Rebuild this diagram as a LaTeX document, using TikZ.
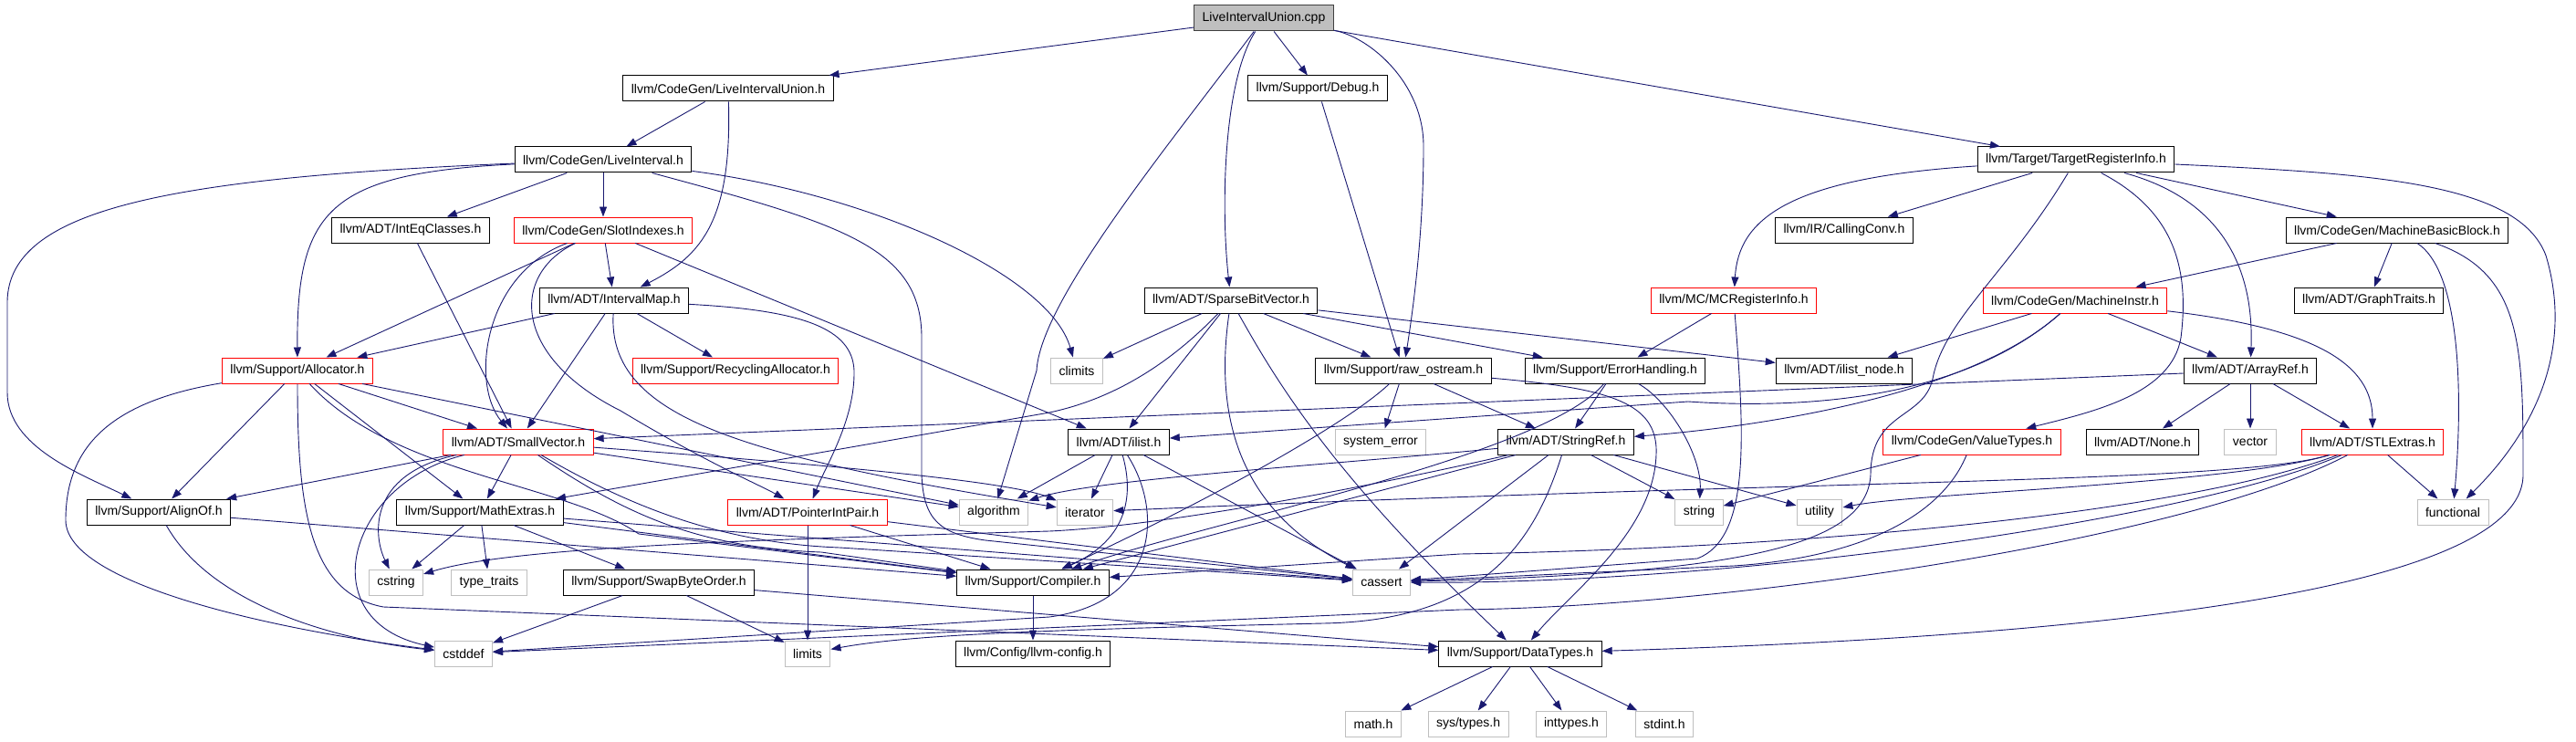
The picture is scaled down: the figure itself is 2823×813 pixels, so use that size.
\documentclass[tikz,border=0pt]{standalone}
\usepackage{fontspec}
\setmainfont{Liberation Sans}
\usetikzlibrary{arrows.meta}
\definecolor{edgeblue}{HTML}{191970}
\definecolor{sysgray}{HTML}{BFBFBF}
\definecolor{rootgray}{HTML}{BFBFBF}
\definecolor{rootline}{HTML}{404040}
\tikzset{
  hdr/.style={draw=black, fill=white, line width=1pt, minimum height=28pt,
    inner xsep=9pt, inner ysep=0pt, font=\fontsize{14}{16}\selectfont},
  trunc/.style={hdr, draw=red},
  sys/.style={hdr, draw=sysgray},
  rootbox/.style={hdr, fill=rootgray, draw=rootline},
  dep/.style={-{Triangle[length=11pt,width=8pt]}, draw=edgeblue, line width=0.9pt},
}

\begin{document}
\begin{tikzpicture}[x=1pt,y=-1pt]
  \fill[white] (0,0) rectangle (2823,813);
  \useasboundingbox (0,0) rectangle (2823,813);

  % Headers, row by row
  \node[rootbox] (root) at (1385,20) {LiveIntervalUnion.cpp};
  \node[hdr] (liuh) at (798,97) {llvm/CodeGen/LiveIntervalUnion.h};
  \node[hdr] (debug) at (1444,97) {llvm/Support/Debug.h};
  \node[hdr] (li) at (661,175) {llvm/CodeGen/LiveInterval.h};
  \node[hdr] (tri) at (2275,175) {llvm/Target/TargetRegisterInfo.h};
  \node[hdr] (ieq) at (450,252) {llvm/ADT/IntEqClasses.h};
  \node[trunc] (slot) at (661,252) {llvm/CodeGen/SlotIndexes.h};
  \node[hdr] (cconv) at (2021,252) {llvm/IR/CallingConv.h};
  \node[hdr] (mbb) at (2627,252) {llvm/CodeGen/MachineBasicBlock.h};
  \node[hdr] (imap) at (673,329) {llvm/ADT/IntervalMap.h};
  \node[hdr] (sbv) at (1349,329) {llvm/ADT/SparseBitVector.h};
  \node[trunc] (mcri) at (1900,329) {llvm/MC/MCRegisterInfo.h};
  \node[trunc] (minstr) at (2274,329) {llvm/CodeGen/MachineInstr.h};
  \node[hdr] (gtraits) at (2596,329) {llvm/ADT/GraphTraits.h};
  \node[trunc] (alloc) at (326,406) {llvm/Support/Allocator.h};
  \node[trunc] (recyc) at (806,406) {llvm/Support/RecyclingAllocator.h};
  \node[sys] (climits) at (1180,406) {climits};
  \node[hdr] (rawos) at (1538,406) {llvm/Support/raw\_ostream.h};
  \node[hdr] (errh) at (1770,406) {llvm/Support/ErrorHandling.h};
  \node[hdr] (ilnode) at (2021,406) {llvm/ADT/ilist\_node.h};
  \node[hdr] (aref) at (2466,406) {llvm/ADT/ArrayRef.h};
  \node[trunc] (svec) at (568,484) {llvm/ADT/SmallVector.h};
  \node[hdr] (ilist) at (1226,484) {llvm/ADT/ilist.h};
  \node[sys] (syserr) at (1513,484) {system\_error};
  \node[hdr] (sref) at (1716,484) {llvm/ADT/StringRef.h};
  \node[trunc] (vtypes) at (2161,484) {llvm/CodeGen/ValueTypes.h};
  \node[hdr] (none) at (2348,484) {llvm/ADT/None.h};
  \node[sys] (vector) at (2466,484) {vector};
  \node[trunc] (stlx) at (2600,484) {llvm/ADT/STLExtras.h};
  \node[hdr] (alignof) at (174,561) {llvm/Support/AlignOf.h};
  \node[hdr] (mathx) at (526,561) {llvm/Support/MathExtras.h};
  \node[trunc] (pip) at (885,561) {llvm/ADT/PointerIntPair.h};
  \node[sys] (algorithm) at (1089,561) {algorithm};
  \node[sys] (iterator) at (1189,561) {iterator};
  \node[sys] (string) at (1862,561) {string};
  \node[sys] (utility) at (1994,561) {utility};
  \node[sys] (functional) at (2688,561) {functional};
  \node[sys] (cstring) at (434,638) {cstring};
  \node[sys] (typetraits) at (536,638) {type\_traits};
  \node[hdr] (swapbo) at (722,638) {llvm/Support/SwapByteOrder.h};
  \node[hdr] (compiler) at (1132,638) {llvm/Support/Compiler.h};
  \node[sys] (cassert) at (1514,638) {cassert};
  \node[sys] (cstddef) at (508,716) {cstddef};
  \node[sys] (limits) at (885,716) {limits};
  \node[hdr] (config) at (1132,716) {llvm/Config/llvm-config.h};
  \node[hdr] (dtypes) at (1666,716) {llvm/Support/DataTypes.h};
  \node[sys] (mathh) at (1505,793) {math.h};
  \node[sys] (systypes) at (1609,793) {sys/types.h};
  \node[sys] (inttypes) at (1722,793) {inttypes.h};
  \node[sys] (stdint) at (1824,793) {stdint.h};

  % LiveIntervalUnion.cpp
  \draw[dep] (root) -- (liuh);
  \draw[dep] (root) -- (debug);
  \draw[dep] (root) -- (tri);
  \draw[dep] (root) .. controls (1340,90) and (1338,230) .. (sbv);
  \draw[dep] (root) .. controls (1500,40) and (1560,90) .. (1560,160)
    .. controls (1560,250) and (1550,330) .. (rawos);
  \draw[dep] (root) .. controls (1280,160) and (1140,330) .. (1136,406) -- (algorithm);
  \draw[dep] (debug) -- (rawos);

  % LiveIntervalUnion.h, LiveInterval.h
  \draw[dep] (liuh) -- (li);
  \draw[dep] (liuh) .. controls (802,240) and (770,280) .. (imap);
  \draw[dep] (li) -- (ieq);
  \draw[dep] (li) -- (slot);
  \draw[dep] (li) .. controls (360,190) and (325,230) .. (alloc);
  \draw[dep] (li) .. controls (180,195) and (10,230) .. (8,330) -- (8,430)
    .. controls (8,490) and (90,520) .. (alignof);
  \draw[dep] (li) .. controls (950,212) and (1150,300) .. (climits);
  \draw[dep] (li) .. controls (920,245) and (1010,270) .. (1010,370) -- (1010,520)
    .. controls (1012,570) and (1030,585) .. (1080,592) -- (cassert);

  % SlotIndexes.h, IntEqClasses.h, IntervalMap.h
  \draw[dep] (ieq) -- (svec);
  \draw[dep] (slot) -- (imap);
  \draw[dep] (slot) -- (alloc);
  \draw[dep] (slot) -- (ilist);
  \draw[dep] (slot) .. controls (530,300) and (515,420) .. (svec);
  \draw[dep] (slot) .. controls (560,300) and (560,390) .. (680,450)
    .. controls (780,510) and (830,530) .. (pip);
  \draw[dep] (imap) -- (alloc);
  \draw[dep] (imap) -- (svec);
  \draw[dep] (imap) -- (recyc);
  \draw[dep] (imap) .. controls (880,340) and (934,360) .. (936,406)
    .. controls (937,460) and (905,510) .. (pip);
  \draw[dep] (imap) .. controls (665,460) and (820,500) .. (iterator);

  % Allocator.h
  \draw[dep] (alloc) -- (svec);
  \draw[dep] (alloc) -- (alignof);
  \draw[dep] (alloc) -- (mathx);
  \draw[dep] (alloc) -- (algorithm);
  \draw[dep] (alloc) .. controls (120,440) and (72,490) .. (72,570)
    .. controls (72,640) and (300,690) .. (cstddef);
  \draw[dep] (alloc) .. controls (326,560) and (340,650) .. (420,665) -- (dtypes);
  \draw[dep] (alloc) .. controls (430,520) and (620,530) .. (700,585) -- (compiler);

  % SmallVector.h
  \draw[dep] (svec) -- (alignof);
  \draw[dep] (svec) -- (mathx);
  \draw[dep] (svec) -- (algorithm);
  \draw[dep] (svec) .. controls (400,520) and (410,590) .. (cstring);
  \draw[dep] (svec) .. controls (380,530) and (340,680) .. (cstddef);
  \draw[dep] (svec) .. controls (680,560) and (760,600) .. (900,605) -- (compiler);
  \draw[dep] (svec) .. controls (690,555) and (790,595) .. (920,600) -- (cassert);
  \draw[dep] (svec) .. controls (850,505) and (1100,525) .. (iterator);

  % Support headers
  \draw[dep] (alignof) -- (compiler);
  \draw[dep] (alignof) .. controls (230,660) and (360,700) .. (cstddef);
  \draw[dep] (mathx) -- (cstring);
  \draw[dep] (mathx) -- (typetraits);
  \draw[dep] (mathx) -- (swapbo);
  \draw[dep] (mathx) -- (compiler);
  \draw[dep] (mathx) -- (cassert);
  \draw[dep] (pip) -- (compiler);
  \draw[dep] (pip) -- (limits);
  \draw[dep] (pip) -- (cassert);
  \draw[dep] (swapbo) -- (cstddef);
  \draw[dep] (swapbo) -- (limits);
  \draw[dep] (swapbo) -- (dtypes);
  \draw[dep] (compiler) -- (config);
  \draw[dep] (dtypes) -- (mathh);
  \draw[dep] (dtypes) -- (systypes);
  \draw[dep] (dtypes) -- (inttypes);
  \draw[dep] (dtypes) -- (stdint);

  % ilist.h
  \draw[dep] (ilist) -- (algorithm);
  \draw[dep] (ilist) -- (iterator);
  \draw[dep] (ilist) -- (cassert);
  \draw[dep] (ilist) .. controls (1242,540) and (1238,590) .. (compiler);
  \draw[dep] (ilist) .. controls (1275,560) and (1270,660) .. (1150,676) -- (cstddef);

  % SparseBitVector.h
  \draw[dep] (sbv) -- (climits);
  \draw[dep] (sbv) -- (ilist);
  \draw[dep] (sbv) -- (rawos);
  \draw[dep] (sbv) -- (errh);
  \draw[dep] (sbv) -- (ilnode);
  \draw[dep] (sbv) .. controls (1290,390) and (1230,435) .. (1150,452) -- (mathx);
  \draw[dep] (sbv) .. controls (1330,460) and (1360,560) .. (cassert);
  \draw[dep] (sbv) .. controls (1400,420) and (1460,520) .. (dtypes);

  % raw_ostream.h, ErrorHandling.h, MCRegisterInfo.h
  \draw[dep] (rawos) -- (syserr);
  \draw[dep] (rawos) -- (sref);
  \draw[dep] (rawos) .. controls (1470,470) and (1300,560) .. (compiler);
  \draw[dep] (rawos) .. controls (1760,425) and (1812,440) .. (1815,490)
    .. controls (1818,580) and (1720,650) .. (dtypes);
  \draw[dep] (errh) -- (sref);
  \draw[dep] (errh) .. controls (1690,500) and (1330,570) .. (compiler);
  \draw[dep] (errh) .. controls (1830,440) and (1865,500) .. (string);
  \draw[dep] (mcri) -- (errh);
  \draw[dep] (mcri) .. controls (1912,480) and (1918,590) .. (1860,612) -- (cassert);

  % StringRef.h
  \draw[dep] (sref) -- (string);
  \draw[dep] (sref) -- (utility);
  \draw[dep] (sref) -- (cassert);
  \draw[dep] (sref) -- (compiler);
  \draw[dep] (sref) .. controls (1450,510) and (1200,525) .. (algorithm);
  \draw[dep] (sref) .. controls (1560,520) and (1300,575) .. (1150,582)
    .. controls (800,592) and (560,600) .. (cstring);
  \draw[dep] (sref) .. controls (1680,600) and (1620,680) .. (1450,683)
    .. controls (1150,690) and (1000,695) .. (limits);

  % TargetRegisterInfo.h
  \draw[dep] (tri) -- (cconv);
  \draw[dep] (tri) -- (mbb);
  \draw[dep] (tri) .. controls (1960,195) and (1905,240) .. (mcri);
  \draw[dep] (tri) .. controls (2380,230) and (2400,290) .. (2390,370)
    .. controls (2380,430) and (2300,450) .. (vtypes);
  \draw[dep] (tri) .. controls (2440,220) and (2470,300) .. (aref);
  \draw[dep] (tri) .. controls (2200,300) and (2130,350) .. (2118,415)
    .. controls (2108,460) and (2050,450) .. (2050,520)
    .. controls (2046,600) and (1900,628) .. (cassert);
  \draw[dep] (tri) .. controls (2600,190) and (2760,200) .. (2790,280)
    .. controls (2820,380) and (2780,470) .. (functional);

  % MachineBasicBlock.h, MachineInstr.h
  \draw[dep] (mbb) -- (minstr);
  \draw[dep] (mbb) -- (gtraits);
  \draw[dep] (mbb) .. controls (2700,300) and (2698,450) .. (functional);
  \draw[dep] (mbb) .. controls (2765,300) and (2765,380) .. (2765,520)
    .. controls (2765,660) and (2200,700) .. (dtypes);
  \draw[dep] (minstr) -- (ilnode);
  \draw[dep] (minstr) -- (aref);
  \draw[dep] (minstr) .. controls (2540,360) and (2600,400) .. (stlx);
  \draw[dep] (minstr) .. controls (2150,440) and (1900,470) .. (sref);
  \draw[dep] (minstr) .. controls (2160,430) and (2000,450) .. (1850,440) -- (ilist);

  % ArrayRef.h, ValueTypes.h, STLExtras.h
  \draw[dep] (aref) -- (svec);
  \draw[dep] (aref) -- (none);
  \draw[dep] (aref) -- (vector);
  \draw[dep] (aref) -- (stlx);
  \draw[dep] (vtypes) -- (string);
  \draw[dep] (vtypes) .. controls (2130,560) and (2050,610) .. (1900,620) -- (cassert);
  \draw[dep] (stlx) -- (functional);
  \draw[dep] (stlx) .. controls (2450,530) and (2000,525) .. (iterator);
  \draw[dep] (stlx) .. controls (2450,530) and (2100,540) .. (utility);
  \draw[dep] (stlx) .. controls (2400,560) and (2000,600) .. (1600,607) -- (compiler);
  \draw[dep] (stlx) .. controls (2400,570) and (1900,640) .. (cassert);
  \draw[dep] (stlx) .. controls (2400,590) and (1900,665) .. (1600,668) -- (cstddef);
\end{tikzpicture}
\end{document}
